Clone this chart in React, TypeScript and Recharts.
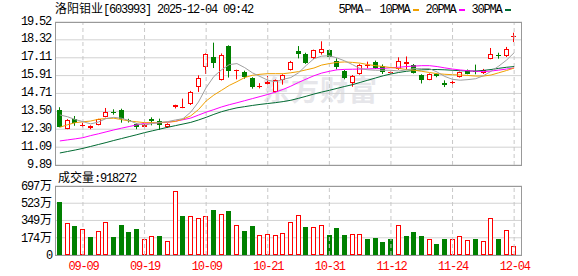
import React from "react";
import { ComposedChart, Bar, Line, XAxis, YAxis, CartesianGrid, ReferenceLine } from "recharts";

const dates = [
  "09-04", "09-05", "09-08", "09-09", "09-10", "09-11", "09-12", "09-15", "09-16", "09-17",
  "09-18", "09-19", "09-22", "09-23", "09-24", "09-25", "09-26", "09-29", "09-30", "10-09",
  "10-10", "10-13", "10-14", "10-15", "10-16", "10-17", "10-20", "10-21", "10-22", "10-23",
  "10-24", "10-27", "10-28", "10-29", "10-30", "10-31", "11-03", "11-04", "11-05", "11-06",
  "11-07", "11-10", "11-11", "11-12", "11-13", "11-14", "11-17", "11-18", "11-19", "11-20",
  "11-21", "11-24", "11-25", "11-26", "11-27", "11-28", "12-01", "12-02", "12-03", "12-04",
];

const opens = [
  13.59, 12.33, 13.01, 12.53, 12.4, 12.6, 13.14, 13.47, 13.59, 12.95,
  12.65, 12.43, 13.01, 12.83, 12.43, 13.8, 13.75, 13.99, 15.12, 16.47,
  17.18, 15.62, 17.9, 16.25, 16.15, 15.75, 15.14, 15.32, 14.83, 15.61,
  16.29, 17.57, 17.37, 17.08, 17.45, 17.62, 16.9, 16.22, 15.39, 16.02,
  16.62, 16.8, 16.56, 16.07, 16.36, 16.69, 16.6, 15.97, 15.64, 16.04,
  15.43, 15.4, 15.82, 16.27, 16.2, 16.06, 17.05, 17.32, 17.23, 18.56,
];
const highs = [
  13.78, 12.98, 13.19, 12.74, 12.56, 13.0, 13.73, 13.64, 13.68, 13.0,
  12.7, 12.65, 13.1, 13.01, 12.7, 13.95, 14.36, 14.88, 15.93, 17.41,
  18.13, 17.4, 17.95, 16.31, 16.24, 15.8, 15.4, 15.88, 15.65, 16.0,
  16.9, 17.9, 17.45, 17.66, 18.22, 17.68, 17.07, 16.29, 15.95, 16.68,
  16.85, 16.92, 16.66, 16.2, 17.14, 17.2, 16.69, 16.0, 16.06, 16.08,
  15.59, 15.66, 16.18, 16.32, 16.65, 16.36, 17.77, 17.45, 17.84, 18.8,
];
const lows = [
  12.43, 12.3, 12.53, 12.43, 12.3, 12.56, 13.1, 13.28, 12.74, 12.75,
  12.3, 12.4, 12.56, 12.25, 12.38, 13.7, 13.72, 13.93, 14.81, 16.02,
  16.42, 15.58, 15.78, 15.66, 15.7, 15.03, 15.05, 15.28, 14.78, 15.3,
  16.25, 17.07, 16.7, 17.02, 17.32, 17.01, 16.33, 15.66, 15.16, 15.97,
  16.4, 16.36, 16.02, 16.02, 16.3, 16.28, 16.05, 15.38, 15.6, 15.8,
  15.14, 15.12, 15.78, 16.0, 16.0, 16.02, 17.01, 17.05, 17.16, 18.17,
];
const closes = [
  12.47, 12.92, 12.74, 12.58, 12.52, 12.97, 13.46, 13.44, 13.01, 12.88,
  12.43, 12.56, 12.83, 12.6, 12.65, 13.9, 13.8, 14.81, 15.75, 17.37,
  16.78, 17.32, 16.2, 16.29, 15.8, 15.12, 15.18, 15.5, 15.61, 15.95,
  16.85, 17.37, 16.78, 17.64, 17.68, 17.14, 16.47, 15.75, 15.88, 16.6,
  16.65, 16.45, 16.16, 16.15, 16.86, 16.83, 16.11, 15.64, 16.04, 15.88,
  15.26, 15.45, 16.15, 16.04, 16.16, 16.31, 17.39, 17.28, 17.72, 18.61,
];

const ma5 = [
  13.26, 13.14, 12.95, 12.81, 12.66, 12.78, 13.02, 13.1, 13.04, 12.88,
  12.68, 12.58, 12.68, 12.76, 12.81, 12.92, 13.01, 13.45, 14.13, 15.1,
  15.85, 16.3, 16.65, 16.72, 16.45, 16.1, 15.85, 15.6, 15.5, 15.66,
  15.78, 16.1, 16.6, 17.05, 17.22, 17.25, 17.1, 16.9, 16.65, 16.38,
  16.3, 16.27, 16.27, 16.27, 16.22, 16.3, 16.38, 16.38, 16.38, 16.15,
  15.85, 15.66, 15.6, 15.64, 15.7, 15.9, 16.2, 16.55, 16.95, 17.45,
];
const ma10 = [
  12.43, 12.6, 12.74, 12.8, 12.85, 12.97, 13.02, 13.04, 12.95, 12.85,
  12.8, 12.74, 12.74, 12.74, 12.78, 12.82, 12.98, 13.2, 13.62, 14.2,
  14.6, 14.92, 15.25, 15.5, 15.78, 15.93, 16.0, 16.04, 16.04, 16.04,
  16.1, 16.18, 16.3, 16.42, 16.62, 16.72, 16.8, 16.83, 16.8, 16.75,
  16.65, 16.58, 16.52, 16.45, 16.4, 16.32, 16.27, 16.2, 16.12, 16.04,
  16.0, 15.97, 15.95, 15.92, 15.88, 15.88, 15.95, 16.1, 16.25, 16.42,
];
const ma20 = [
  11.51, 11.58, 11.65, 11.73, 11.87, 11.99, 12.12, 12.25, 12.37, 12.48,
  12.59, 12.7, 12.72, 12.74, 12.77, 12.84, 12.94, 13.05, 13.25, 13.45,
  13.62, 13.8, 13.95, 14.08, 14.22, 14.36, 14.5, 14.64, 14.8, 14.98,
  15.2, 15.45, 15.68, 15.9, 16.08, 16.2, 16.3, 16.33, 16.34, 16.35,
  16.36, 16.38, 16.4, 16.44, 16.47, 16.52, 16.55, 16.58, 16.58, 16.52,
  16.43, 16.35, 16.29, 16.24, 16.2, 16.18, 16.22, 16.28, 16.35, 16.42,
];
const ma30 = [
  10.7, 10.8, 10.9, 11.01, 11.14, 11.27, 11.4, 11.54, 11.67, 11.8,
  11.93, 12.07, 12.19, 12.31, 12.43, 12.54, 12.65, 12.76, 12.92, 13.1,
  13.3, 13.48, 13.62, 13.74, 13.82, 13.9, 13.97, 14.03, 14.09, 14.16,
  14.25, 14.38, 14.52, 14.67, 14.8, 14.92, 15.05, 15.18, 15.3, 15.45,
  15.6, 15.75, 15.9, 16.02, 16.12, 16.2, 16.26, 16.3, 16.32, 16.32,
  16.3, 16.27, 16.24, 16.22, 16.22, 16.26, 16.32, 16.4, 16.47, 16.52,
];

// 万
const volumes = [
  535, 327, 293, 259, 182, 242, 333, 182, 303, 232,
  263, 162, 192, 192, 141, 646, 394, 394, 370, 394,
  455, 414, 444, 303, 242, 293, 202, 212, 202, 222,
  333, 404, 283, 283, 303, 202, 273, 202, 212, 212,
  162, 172, 131, 162, 303, 192, 232, 192, 162, 111,
  162, 162, 192, 152, 162, 141, 374, 162, 253, 91,
];
// 1 = red (up day), 0 = green
const volUp = [
  0, 1, 0, 1, 0, 1, 1, 0, 0, 0,
  0, 1, 1, 0, 1, 1, 0, 1, 1, 1,
  0, 1, 0, 1, 0, 0, 1, 1, 1, 1,
  1, 1, 0, 1, 1, 0, 0, 0, 1, 1,
  0, 0, 0, 0, 1, 0, 0, 0, 1, 0,
  0, 1, 1, 1, 0, 1, 1, 0, 1, 1,
];

const tickDates = ["09-09", "09-19", "10-09", "10-21", "10-31", "11-12", "11-24", "12-04"];
const priceTicks = [9.89, 11.09, 12.3, 13.5, 14.71, 15.91, 17.11, 18.32, 19.52];
const volTicks = [0, 174, 349, 523, 697];

const legendItems = [
  { name: "5PMA", color: "#a0a0a0", x: 338.5, dash: 365 },
  { name: "10PMA", color: "#f0a000", x: 379.5, dash: 413 },
  { name: "20PMA", color: "#ff00ff", x: 425.5, dash: 459 },
  { name: "30PMA", color: "#006a32", x: 471.5, dash: 505 },
];

const RED = "#ff0000";
const GREEN = "#008000";
const MONO = '"Liberation Mono", "DejaVu Sans Mono", monospace';
const CJK = '"Noto Sans CJK SC", sans-serif';

const rows = dates.map((d, i) => ({
  date: d,
  range: [lows[i], highs[i]],
  open: opens[i],
  close: closes[i],
  high: highs[i],
  low: lows[i],
  ma5: ma5[i],
  ma10: ma10[i],
  ma20: ma20[i],
  ma30: ma30[i],
  vol: volumes[i],
  up: volUp[i] === 1,
}));

function Candle(props: any) {
  const { x, y, width, height, payload } = props;
  const { open, close, high, low } = payload;
  const top0 = Math.min(y, y + height);
  const h = Math.abs(height);
  const k = high === low ? 0 : h / (high - low);
  const yOf = (v: number) => top0 + (high - v) * k;
  const c = Math.floor(x + width / 2);
  const wx = c + 0.5;
  const up = close >= open;
  const bt = Math.round(yOf(Math.max(open, close)));
  const bb = Math.round(yOf(Math.min(open, close)));
  const hi = yOf(high);
  const lo = yOf(low);
  if (up) {
    if (bb - bt < 2) {
      return (
        <g>
          <line x1={wx} x2={wx} y1={hi} y2={lo} stroke={RED} />
          <line x1={c - 2} x2={c + 3} y1={bt + 0.5} y2={bt + 0.5} stroke={RED} />
        </g>
      );
    }
    return (
      <g>
        <line x1={wx} x2={wx} y1={hi} y2={bt} stroke={RED} />
        <line x1={wx} x2={wx} y1={bb} y2={lo} stroke={RED} />
        <rect x={c - 1.5} y={bt + 0.5} width={4} height={bb - bt - 1} fill="#fff" stroke={RED} />
      </g>
    );
  }
  return (
    <g>
      <line x1={wx} x2={wx} y1={hi} y2={lo} stroke={GREEN} />
      <rect x={c - 2} y={bt} width={5} height={Math.max(1, bb - bt)} fill={GREEN} />
    </g>
  );
}

function VolBar(props: any) {
  const { x, y, width, height, payload } = props;
  const c = Math.floor(x + width / 2);
  const t = Math.round(Math.min(y, y + height));
  const b = Math.round(Math.max(y, y + height));
  if (payload.up) {
    return <rect x={c - 1.5} y={t + 0.5} width={4} height={Math.max(0, b - t - 1)} fill="#fff" stroke={RED} />;
  }
  return <rect x={c - 2} y={t} width={5} height={b - t} fill={GREEN} />;
}

const PriceTick = (props: any) => (
  <text x={51} y={props.y + 2.5} textAnchor="end" fontSize={12} fontFamily={MONO} letterSpacing={-1.2} fill="#000">
    {Number(props.payload.value).toFixed(2)}
  </text>
);

const VolTick = (props: any) => {
  const v = props.payload.value;
  return (
    <text x={52} y={props.y + 4} textAnchor="end" fontSize={12} fill="#000">
      <tspan fontFamily={MONO} letterSpacing={-1.2}>{v}</tspan>
      {v > 0 ? <tspan fontFamily={CJK} dx={1}>万</tspan> : null}
    </text>
  );
};

const DateTick = (props: any) => (
  <text x={props.x + 0.5} y={104} textAnchor="middle" fontSize={12} fontFamily={MONO} letterSpacing={-1.2} fill={RED}>
    {props.payload.value}
  </text>
);

export default function App() {
  return (
    <div style={{ position: "absolute", left: 0, top: 0, width: 578, height: 276, background: "#fff", overflow: "hidden" }}>
      <svg width={578} height={276} style={{ position: "absolute", left: 0, top: 0 }}>
        <text x={262} y={101} fontSize={28} fontWeight={700} fontFamily={CJK} fill="#e6e6ea" letterSpacing={1}>
          东方财富
        </text>
      </svg>

      <div style={{ position: "absolute", left: 0, top: 0 }}>
        <ComposedChart width={578} height={172} data={rows} margin={{ top: 22, right: 56, bottom: 7, left: 0 }}>
          <CartesianGrid vertical={false} stroke="#d2d2d2" />
          <XAxis dataKey="date" type="category" hide padding={{ left: 1, right: 4 }} />
          <YAxis
            type="number"
            domain={[9.89, 19.52]}
            ticks={priceTicks}
            interval={0}
            width={55}
            axisLine={false}
            tickLine={false}
            tick={<PriceTick />}
            allowDataOverflow
          />
          {tickDates.map((d) => (
            <ReferenceLine key={d} x={d} stroke="#c8c8c8" strokeDasharray="4 3" />
          ))}
          <Bar dataKey="range" barSize={5} shape={(p: any) => <Candle {...p} />} isAnimationActive={false} />
          <Line dataKey="ma30" stroke="#006a32" strokeWidth={1} dot={false} isAnimationActive={false} />
          <Line dataKey="ma20" stroke="#ff00ff" strokeWidth={1} dot={false} isAnimationActive={false} />
          <Line dataKey="ma10" stroke="#f0a000" strokeWidth={1} dot={false} isAnimationActive={false} />
          <Line dataKey="ma5" stroke="#a0a0a0" strokeWidth={1} dot={false} isAnimationActive={false} />
        </ComposedChart>
      </div>

      <div style={{ position: "absolute", left: 0, top: 166 }}>
        <ComposedChart width={578} height={110} data={rows} margin={{ top: 20, right: 56, bottom: 0, left: 0 }}>
          <CartesianGrid vertical={false} stroke="#d2d2d2" />
          <XAxis
            dataKey="date"
            type="category"
            ticks={tickDates}
            interval={0}
            height={21}
            padding={{ left: 1, right: 4 }}
            axisLine={false}
            tickLine={false}
            tick={<DateTick />}
          />
          <YAxis
            type="number"
            domain={[0, 697]}
            ticks={volTicks}
            interval={0}
            width={55}
            axisLine={false}
            tickLine={false}
            tick={<VolTick />}
          />
          {tickDates.map((d) => (
            <ReferenceLine key={d} x={d} stroke="#c8c8c8" strokeDasharray="4 3" />
          ))}
          <Bar dataKey="vol" barSize={5} shape={(p: any) => <VolBar {...p} />} isAnimationActive={false} />
        </ComposedChart>
      </div>

      <svg width={578} height={276} style={{ position: "absolute", left: 0, top: 0, pointerEvents: "none" }}>
        <rect x={55.5} y={22.5} width={466} height={143} fill="none" stroke="#999" />
        <rect x={55.5} y={186.5} width={466} height={69} fill="none" stroke="#999" />
        <text x={55} y={13} fontSize={12} fill="#000">
          <tspan fontFamily={CJK}>洛阳钼业</tspan>
          <tspan fontFamily={MONO} letterSpacing={-1.2}>[603993] 2025-12-04 09:42</tspan>
        </text>
        {legendItems.map((l) => (
          <g key={l.name}>
            <text x={l.x} y={13} fontSize={12} fontFamily={MONO} letterSpacing={-1.2} fill="#000">
              {l.name}
            </text>
            <rect x={l.dash} y={9} width={6} height={2} fill={l.color} />
          </g>
        ))}
        <text x={58} y={182} fontSize={12} fill="#000">
          <tspan fontFamily={CJK}>成交量</tspan>
          <tspan fontFamily={MONO} letterSpacing={-1.2}>:918272</tspan>
        </text>
      </svg>
    </div>
  );
}
